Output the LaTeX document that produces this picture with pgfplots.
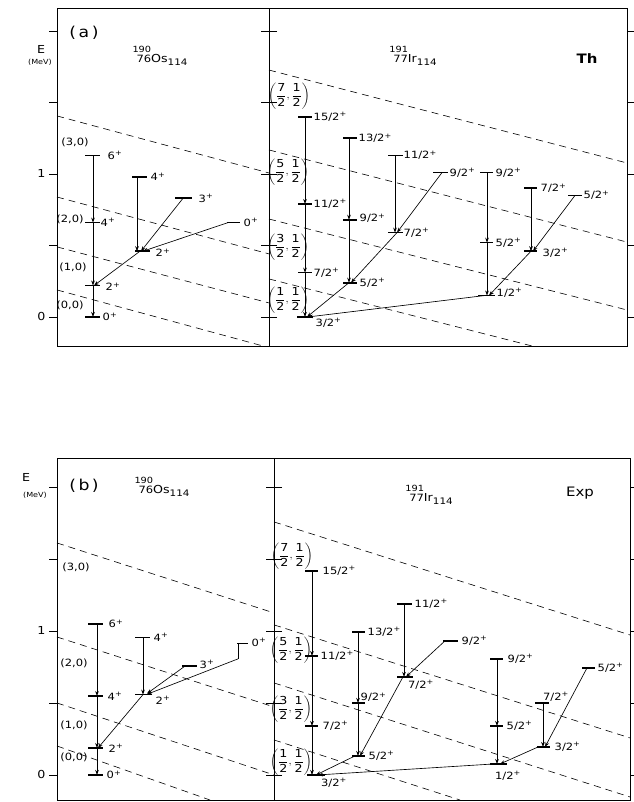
\documentclass[border=0pt]{standalone}
\usepackage{amsmath}
\usepackage{pgfplots}
\pgfplotsset{compat=1.18}
\usetikzlibrary{arrows.meta}
\usepackage{fontspec}
\setmainfont[FakeStretch=1.15]{DejaVu Sans}
\newcommand\fs[1]{\fontsize{#1}{#1}\selectfont}
\newcommand\lv[1]{#1\textsuperscript{+}}
\newcommand\nuc[4]{{\renewcommand\arraystretch{0.8}\begin{tabular}[b]{@{}r@{}}\fs{8.5}#1\\\fs{10}#2\end{tabular}}\fs{11}#3\raisebox{-3pt}{\fs{9}#4}}
\newcommand\qn[1]{$\left(\dfrac{\text{#1}}{\text{2}},\dfrac{\text{1}}{\text{2}}\right)$}
\pgfplotsset{
 panel/.style={scale only axis, clip=false, anchor=south west, xtick=\empty,
   ytick={0,0.5,1,1.5,2}, ytick pos=both, tick align=outside, major tick length=8pt,
   tick style={black,line width=0.8pt}, axis line style={line width=0.9pt},
   yticklabel style={font=\fs{11}}, /pgf/number format/assume math mode=true},
 lvl/.style={black,line width=1.7pt,no marks},
 tr/.style={black,line width=0.65pt,no marks,-{Stealth[length=5pt,width=3.6pt]}},
 pl/.style={black,line width=0.65pt,no marks},
 dsh/.style={black,line width=0.6pt,no marks,dash pattern=on 7pt off 5pt},
}
\tikzset{lb/.style={anchor=west,inner sep=0.5pt,font=\fs{10}},
 lc/.style={inner sep=0.5pt,font=\fs{10}},
 qq/.style={inner sep=0pt,font=\fs{11}}}
\begin{document}
\begin{tikzpicture}[x=1pt,y=1pt]
\useasboundingbox (0,0) rectangle (633,802);
% ================= TOP LEFT (a) Os =================
\begin{axis}[panel, at={(57pt,456pt)}, width=212pt, height=338pt,
  xmin=57, xmax=269, ymin=-0.203, ymax=2.161, yticklabels={0,,1,,}]
\addplot[lvl] coordinates {(85,1.13)(100,1.13)};
\addplot[lvl] coordinates {(85,0.66)(100,0.66)};
\addplot[lvl] coordinates {(85,0.22)(100,0.22)};
\addplot[lvl] coordinates {(85,0)(100,0)};
\addplot[lvl] coordinates {(132,0.98)(147,0.98)};
\addplot[lvl] coordinates {(135,0.46)(150,0.46)};
\addplot[lvl] coordinates {(175,0.83)(192,0.83)};
\addplot[lvl] coordinates {(227,0.66)(240,0.66)};
\addplot[tr] coordinates {(93,1.13)(93,0.66)};
\addplot[tr] coordinates {(93,0.66)(93,0.22)};
\addplot[tr] coordinates {(93,0.22)(93,0)};
\addplot[tr] coordinates {(137,0.98)(137,0.46)};
\addplot[tr] coordinates {(183,0.83)(141,0.46)};
\addplot[tr] coordinates {(228,0.66)(143,0.46)};
\addplot[tr] coordinates {(140,0.46)(94,0.22)};
\addplot[dsh] coordinates {(57,1.406)(269,1.007)};
\addplot[dsh] coordinates {(57,0.839)(269,0.441)};
\addplot[dsh] coordinates {(57,0.490)(269,0.098)};
\addplot[dsh] coordinates {(57,0.189)(263,-0.203)};
\node[font=\fs{15}] at (axis cs:84,1.99) {(\,a\,)};
\node[font=\fs{11}] at (axis cs:41,1.87) {E};
\node[font=\fs{7}] at (axis cs:40,1.78) {(MeV)};
\node at (axis cs:160,1.83) {\nuc{190}{76}{Os}{114}};
\node[lc] at (axis cs:75,1.22) {(3,0)};
\node[lc] at (axis cs:70,0.68) {(2,0)};
\node[lc] at (axis cs:73,0.35) {(1,0)};
\node[lc] at (axis cs:70,0.08) {(0,0)};
\node[lb] at (axis cs:107,1.13) {\lv{6}};
\node[lb] at (axis cs:100,0.66) {\lv{4}};
\node[lb] at (axis cs:105,0.21) {\lv{2}};
\node[lb] at (axis cs:102,0) {\lv{0}};
\node[lb] at (axis cs:150,0.98) {\lv{4}};
\node[lb] at (axis cs:155,0.448) {\lv{2}};
\node[lb] at (axis cs:198,0.83) {\lv{3}};
\node[lb] at (axis cs:243,0.66) {\lv{0}};
\end{axis}
% ================= TOP RIGHT Ir Th =================
\begin{axis}[panel, at={(269pt,456pt)}, width=358pt, height=338pt,
  xmin=269, xmax=627, ymin=-0.203, ymax=2.161, yticklabels={,,,,}]
\addplot[lvl] coordinates {(298,1.40)(312,1.40)};
\addplot[lvl] coordinates {(298,0.79)(312,0.79)};
\addplot[lvl] coordinates {(298,0.31)(312,0.31)};
\addplot[lvl] coordinates {(297,0)(313,0)};
\addplot[lvl] coordinates {(343,1.25)(357,1.25)};
\addplot[lvl] coordinates {(343,0.68)(357,0.68)};
\addplot[lvl] coordinates {(343,0.24)(357,0.24)};
\addplot[lvl] coordinates {(388,1.13)(403,1.13)};
\addplot[lvl] coordinates {(388,0.59)(403,0.59)};
\addplot[lvl] coordinates {(433,1.01)(448,1.01)};
\addplot[lvl] coordinates {(480,1.01)(493,1.01)};
\addplot[lvl] coordinates {(480,0.52)(493,0.52)};
\addplot[lvl] coordinates {(478,0.15)(495,0.15)};
\addplot[lvl] coordinates {(524,0.90)(537,0.90)};
\addplot[lvl] coordinates {(524,0.46)(537,0.46)};
\addplot[lvl] coordinates {(568,0.85)(582,0.85)};
\addplot[tr] coordinates {(305,1.40)(305,0.79)};
\addplot[tr] coordinates {(305,0.79)(305,0.31)};
\addplot[tr] coordinates {(305,0.31)(305,0)};
\addplot[tr] coordinates {(349,1.25)(349,0.68)};
\addplot[tr] coordinates {(349,0.68)(349,0.24)};
\addplot[tr] coordinates {(395,1.13)(395,0.59)};
\addplot[tr] coordinates {(442,1.01)(397,0.59)};
\addplot[tr] coordinates {(397,0.59)(351,0.24)};
\addplot[tr] coordinates {(349,0.24)(307,0)};
\addplot[tr] coordinates {(487,1.01)(487,0.52)};
\addplot[tr] coordinates {(487,0.52)(487,0.15)};
\addplot[tr] coordinates {(531,0.90)(531,0.46)};
\addplot[tr] coordinates {(575,0.85)(533,0.46)};
\addplot[tr] coordinates {(531,0.46)(489,0.15)};
\addplot[tr] coordinates {(485,0.15)(308,0)};
\addplot[dsh] coordinates {(269,1.727)(627,1.077)};
\addplot[dsh] coordinates {(269,1.168)(627,0.524)};
\addplot[dsh] coordinates {(269,0.685)(627,0.049)};
\addplot[dsh] coordinates {(269,0.266)(532,-0.203)};
\node at (axis cs:413,1.825) {\nuc{191}{77}{Ir}{114}};
\node[font=\fs{13}\bfseries] at (axis cs:587,1.81) {Th};
\node[qq] at (axis cs:289,1.545) {\qn{7}};
\node[qq] at (axis cs:288,1.014) {\qn{5}};
\node[qq] at (axis cs:288,0.490) {\qn{3}};
\node[qq] at (axis cs:288,0.119) {\qn{1}};
\node[lb] at (axis cs:313,1.40) {\lv{15/2}};
\node[lb] at (axis cs:313,0.79) {\lv{11/2}};
\node[lb] at (axis cs:313,0.31) {\lv{7/2}};
\node[lb] at (axis cs:315,-0.042) {\lv{3/2}};
\node[lb] at (axis cs:358,1.25) {\lv{13/2}};
\node[lb] at (axis cs:359,0.69) {\lv{9/2}};
\node[lb] at (axis cs:359,0.24) {\lv{5/2}};
\node[lb] at (axis cs:403,1.13) {\lv{11/2}};
\node[lb] at (axis cs:403,0.587) {\lv{7/2}};
\node[lb] at (axis cs:449,1.01) {\lv{9/2}};
\node[lb] at (axis cs:495,1.01) {\lv{9/2}};
\node[lb] at (axis cs:495,0.52) {\lv{5/2}};
\node[lb] at (axis cs:496,0.168) {\lv{1/2}};
\node[lb] at (axis cs:540,0.90) {\lv{7/2}};
\node[lb] at (axis cs:542,0.448) {\lv{3/2}};
\node[lb] at (axis cs:583,0.85) {\lv{5/2}};
\end{axis}
% ================= BOTTOM LEFT (b) Os =================
\begin{axis}[panel, at={(57pt,2pt)}, width=217pt, height=342pt,
  xmin=57, xmax=274, ymin=-0.174, ymax=2.201, yticklabels={0,,1,,}]
\addplot[lvl] coordinates {(88,1.05)(103,1.05)};
\addplot[lvl] coordinates {(88,0.548)(103,0.548)};
\addplot[lvl] coordinates {(88,0.187)(103,0.187)};
\addplot[lvl] coordinates {(88,0)(103,0)};
\addplot[lvl] coordinates {(135,0.955)(150,0.955)};
\addplot[lvl] coordinates {(135,0.558)(152,0.558)};
\addplot[lvl] coordinates {(182,0.756)(197,0.756)};
\addplot[lvl] coordinates {(237,0.912)(248,0.912)};
\addplot[tr] coordinates {(97,1.05)(97,0.548)};
\addplot[tr] coordinates {(97,0.548)(97,0.187)};
\addplot[tr] coordinates {(97,0.187)(97,0)};
\addplot[tr] coordinates {(143,0.955)(143,0.558)};
\addplot[tr] coordinates {(185,0.756)(147,0.565)};
\addplot[pl] coordinates {(238,0.912)(238,0.806)};
\addplot[tr] coordinates {(238,0.806)(147,0.56)};
\addplot[tr] coordinates {(143,0.558)(98,0.187)};
\addplot[dsh] coordinates {(57,1.611)(274,1.125)};
\addplot[dsh] coordinates {(57,0.958)(274,0.472)};
\addplot[dsh] coordinates {(57,0.5)(274,0)};
\addplot[dsh] coordinates {(57,0.201)(210,-0.174)};
\node[font=\fs{15}] at (axis cs:84,2.01) {(\,b\,)};
\node[font=\fs{11}] at (axis cs:26,2.066) {E};
\node[font=\fs{7}] at (axis cs:35,1.944) {(MeV)};
\node at (axis cs:162,2.0) {\nuc{190}{76}{Os}{114}};
\node[lc] at (axis cs:76,1.444) {(3,0)};
\node[lc] at (axis cs:74,0.778) {(2,0)};
\node[lc] at (axis cs:74,0.347) {(1,0)};
\node[lc] at (axis cs:74,0.125) {(0,0)};
\node[lb] at (axis cs:108,1.05) {\lv{6}};
\node[lb] at (axis cs:107,0.548) {\lv{4}};
\node[lb] at (axis cs:108,0.187) {\lv{2}};
\node[lb] at (axis cs:106,0) {\lv{0}};
\node[lb] at (axis cs:153,0.955) {\lv{4}};
\node[lb] at (axis cs:155,0.52) {\lv{2}};
\node[lb] at (axis cs:199,0.77) {\lv{3}};
\node[lb] at (axis cs:251,0.92) {\lv{0}};
\end{axis}
% ================= BOTTOM RIGHT Ir Exp =================
\begin{axis}[panel, at={(274pt,2pt)}, width=356pt, height=342pt,
  xmin=274, xmax=630, ymin=-0.174, ymax=2.201, yticklabels={,,,,}]
\addplot[lvl] coordinates {(305,1.417)(318,1.417)};
\addplot[lvl] coordinates {(305,0.826)(318,0.826)};
\addplot[lvl] coordinates {(305,0.34)(318,0.34)};
\addplot[lvl] coordinates {(307,0)(325,0)};
\addplot[lvl] coordinates {(352,0.993)(365,0.993)};
\addplot[lvl] coordinates {(352,0.5)(365,0.5)};
\addplot[lvl] coordinates {(352,0.132)(365,0.132)};
\addplot[lvl] coordinates {(397,1.188)(412,1.188)};
\addplot[lvl] coordinates {(397,0.681)(413,0.681)};
\addplot[lvl] coordinates {(443,0.931)(458,0.931)};
\addplot[lvl] coordinates {(490,0.806)(503,0.806)};
\addplot[lvl] coordinates {(490,0.34)(503,0.34)};
\addplot[lvl] coordinates {(490,0.076)(507,0.076)};
\addplot[lvl] coordinates {(535,0.5)(549,0.5)};
\addplot[lvl] coordinates {(537,0.194)(550,0.194)};
\addplot[lvl] coordinates {(582,0.743)(595,0.743)};
\addplot[tr] coordinates {(312,1.417)(312,0.826)};
\addplot[tr] coordinates {(312,0.826)(312,0.34)};
\addplot[tr] coordinates {(312,0.34)(312,0)};
\addplot[tr] coordinates {(358,0.993)(358,0.5)};
\addplot[tr] coordinates {(358,0.5)(358,0.132)};
\addplot[tr] coordinates {(404,1.188)(404,0.681)};
\addplot[tr] coordinates {(445,0.931)(406,0.681)};
\addplot[tr] coordinates {(403,0.681)(360,0.132)};
\addplot[tr] coordinates {(355,0.132)(316,0)};
\addplot[tr] coordinates {(497,0.806)(497,0.34)};
\addplot[tr] coordinates {(497,0.34)(497,0.076)};
\addplot[tr] coordinates {(543,0.5)(543,0.194)};
\addplot[tr] coordinates {(587,0.743)(545,0.194)};
\addplot[tr] coordinates {(538,0.194)(500,0.076)};
\addplot[tr] coordinates {(493,0.076)(318,0)};
\addplot[dsh] coordinates {(274,1.757)(630,0.972)};
\addplot[dsh] coordinates {(274,1.042)(630,0.257)};
\addplot[dsh] coordinates {(274,0.639)(630,-0.153)};
\addplot[dsh] coordinates {(274,0.243)(460,-0.174)};
\node at (axis cs:429,1.944) {\nuc{191}{77}{Ir}{114}};
\node[font=\fs{13}] at (axis cs:580,1.958) {Exp};
\node[qq] at (axis cs:292,1.521) {\qn{7}};
\node[qq] at (axis cs:291,0.868) {\qn{5}};
\node[qq] at (axis cs:291,0.458) {\qn{3}};
\node[qq] at (axis cs:291,0.090) {\qn{1}};
\node[lb] at (axis cs:322,1.417) {\lv{15/2}};
\node[lb] at (axis cs:320,0.826) {\lv{11/2}};
\node[lb] at (axis cs:322,0.34) {\lv{7/2}};
\node[lc] at (axis cs:334,-0.055) {\lv{3/2}};
\node[lb] at (axis cs:367,0.993) {\lv{13/2}};
\node[lb] at (axis cs:360,0.54) {\lv{9/2}};
\node[lb] at (axis cs:368,0.132) {\lv{5/2}};
\node[lb] at (axis cs:414,1.188) {\lv{11/2}};
\node[lc] at (axis cs:421,0.625) {\lv{7/2}};
\node[lb] at (axis cs:461,0.931) {\lv{9/2}};
\node[lb] at (axis cs:507,0.806) {\lv{9/2}};
\node[lb] at (axis cs:506,0.34) {\lv{5/2}};
\node[lc] at (axis cs:508,-0.005) {\lv{1/2}};
\node[lc] at (axis cs:556,0.542) {\lv{7/2}};
\node[lb] at (axis cs:554,0.194) {\lv{3/2}};
\node[lb] at (axis cs:597,0.743) {\lv{5/2}};
\end{axis}
\end{tikzpicture}
\end{document}
